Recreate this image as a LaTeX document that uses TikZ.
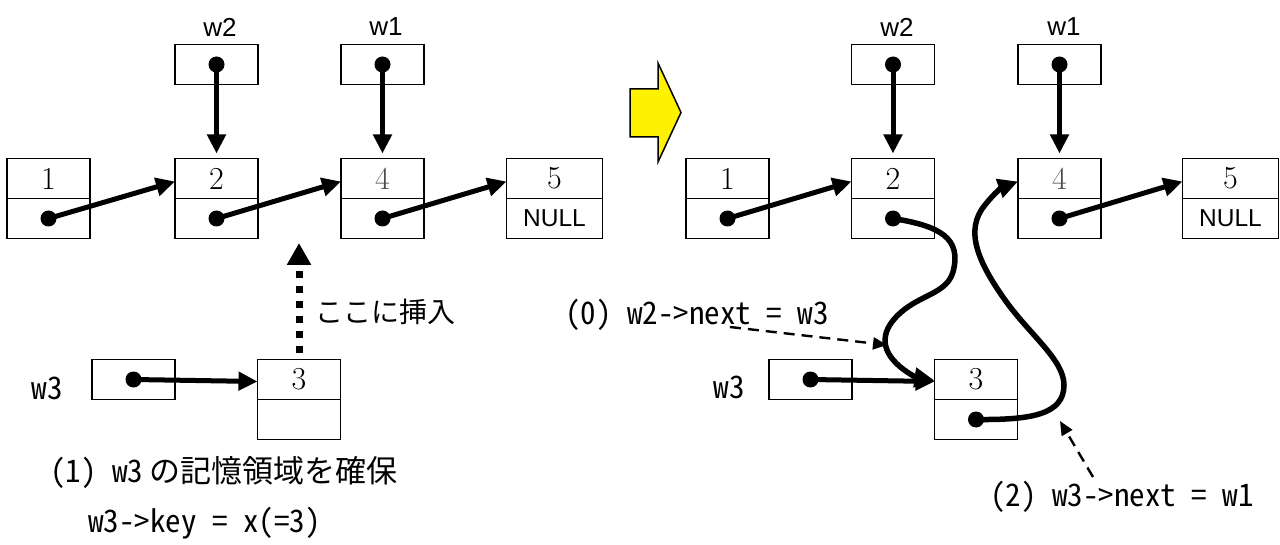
\documentclass[tikz,border=0pt]{standalone}
\usepackage{fontspec}
\newfontfamily\jpf[RawFeature=+hwid]{Noto Sans CJK JP}
\newfontfamily\jpplain{Noto Sans CJK JP}
\newfontfamily\arialf{Liberation Sans}
\usetikzlibrary{arrows.meta,calc}
\begin{document}
\begin{tikzpicture}[x=1pt,y=-1pt,
  cell/.style={draw, line width=1.7pt, minimum width=83pt, minimum height=40pt,
    inner sep=0pt, outer sep=0pt, font=\fontsize{32}{36}\selectfont},
  wide/.style={cell, minimum width=96pt},
  nulltxt/.style={font=\arialf\fontsize{24.5}{28}\selectfont},
  lbl/.style={inner sep=0pt, font=\arialf\fontsize{26}{30}\selectfont},
  jp/.style={inner sep=0pt, anchor=west, font=\jpf\fontsize{31}{36}\selectfont},
  ptr/.style={line width=5pt, -{Triangle[length=19pt,width=18pt]}},
  curvptr/.style={line width=5.5pt, line cap=round, -{Triangle[length=20pt,width=19pt]}},
  dashedarrow/.style={line width=2.4pt, dash pattern=on 11pt off 7pt, -{Triangle[length=14pt,width=12pt]}},
  dottedarrow/.style={line width=7pt, dash pattern=on 7pt off 8pt, -{Triangle[length=22pt,width=23pt]}}
]
\useasboundingbox (0,0) rectangle (1280,545);

% ---------- left: before ----------
\node[cell] (L1k) at (48.5,178.5) {1};
\node[cell] (L1p) at (48.5,218.5) {};
\node[cell] (L2k) at (216.5,178.5) {2};
\node[cell] (L2p) at (216.5,218.5) {};
\node[cell,text=black!70] (L4k) at (382.5,178.5) {4};
\node[cell] (L4p) at (382.5,218.5) {};
\node[wide] (L5k) at (554.5,178.5) {5};
\node[wide,nulltxt] (L5p) at (554.5,218.5) {NULL};
\node[cell] (LW2) at (216.5,64.5) {};
\node[cell] (LW1) at (382.5,64.5) {};
\node[lbl] (LW2l) at (220,27) {w2};
\node[lbl] (LW1l) at (386,27) {w1};
\node[cell] (LW3) at (133.5,379.5) {};
\node[cell] (L3k) at (299,379.5) {3};
\node[cell] (L3p) at (299,419.5) {};
\node[jp,anchor=center] (LW3l) at (47,388) {w3};

\draw[ptr] (L1p.center) -- ([yshift=-3pt]L2k.west);
\draw[ptr] (L2p.center) -- ([yshift=-3pt]L4k.west);
\draw[ptr] (L4p.center) -- ([yshift=-3pt]L5k.west);
\draw[ptr] (LW2.center) -- ([yshift=5pt]L2k.north);
\draw[ptr] (LW1.center) -- ([yshift=5pt]L4k.north);
\draw[ptr] (LW3.center) -- ([yshift=-2pt]L3k.west);
\coordinate (here) at (299,243);
\draw[dottedarrow] ([yshift=6pt]L3k.north) -- (here);
\node[inner sep=0pt, anchor=west, font=\jpplain\fontsize{28}{32}\selectfont] (ins) at (315,312) {ここに挿入};
\node[jp] (t1) at (50,473) {(1) w3\hspace{6pt}の記憶領域を確保};
\node[jp] (t1b) at (88,523) {w3->key = x(=3)};

% ---------- yellow arrow ----------
\draw[line width=1.5pt, fill=yellow, line join=miter]
  (630,89) -- (658,89) -- (658,63) -- (681,112.5) -- (658,162) -- (658,137) -- (630,137) -- cycle;

% ---------- right: after ----------
\node[cell] (R1k) at (727.5,178.5) {1};
\node[cell] (R1p) at (727.5,218.5) {};
\node[cell] (R2k) at (893,178.5) {2};
\node[cell] (R2p) at (893,218.5) {};
\node[cell,text=black!70] (R4k) at (1059.5,178.5) {4};
\node[cell] (R4p) at (1059.5,218.5) {};
\node[wide] (R5k) at (1230.5,178.5) {5};
\node[wide,nulltxt] (R5p) at (1230.5,218.5) {NULL};
\node[cell] (RW2) at (893,64.5) {};
\node[cell] (RW1) at (1059.5,64.5) {};
\node[lbl] (RW2l) at (897,27) {w2};
\node[lbl] (RW1l) at (1064,27) {w1};
\node[cell] (RW3) at (810.5,379.5) {};
\node[cell] (R3k) at (976,379.5) {3};
\node[cell] (R3p) at (976,419.5) {};
\node[jp,anchor=center] (RW3l) at (729,387) {w3};

\draw[ptr] (R1p.center) -- ([yshift=-3pt]R2k.west);
\draw[ptr] (R4p.center) -- ([yshift=-3pt]R5k.west);
\draw[ptr] (RW2.center) -- ([yshift=5pt]R2k.north);
\draw[ptr] (RW1.center) -- ([yshift=5pt]R4k.north);
\draw[ptr] (RW3.center) -- ([yshift=-2pt]R3k.west);

% w2->next = w3
\draw[curvptr] (R2p.center) .. controls (940,226) and (962,238) .. (953,272)
  .. controls (947,292) and (925,294) .. (905,309)
  .. controls (883,326) and (878,345) .. (896,363)
  .. controls (906,373) and (918,378) .. ([yshift=-1pt]R3k.west);
% w3->next = w1
\draw[curvptr] (R3p.center) .. controls (1030,420) and (1064,415) .. (1064,385)
  .. controls (1064,360) and (1030,335) .. (1005,300)
  .. controls (978,262) and (964,230) .. (985,205)
  .. controls (995,192) and (1003,187) .. ([yshift=-3pt]R4k.west);

\coordinate (d0s) at (730,327);
\coordinate (d0e) at (887,345);
\draw[dashedarrow] (d0s) -- (d0e);
\coordinate (d2s) at (1093,477);
\coordinate (d2e) at (1060,421);
\draw[dashedarrow] (d2s) -- (d2e);

\node[jp] (t0) at (565,315) {(0) w2->next = w3};
\node[jp] (t2) at (990,497) {(2) w3->next = w1};

% dots
\foreach \n in {L1p,L2p,L4p,LW2,LW1,LW3,R1p,R2p,R4p,RW2,RW1,RW3,R3p}
  \fill (\n.center) circle[radius=8pt];
\end{tikzpicture}
\end{document}
